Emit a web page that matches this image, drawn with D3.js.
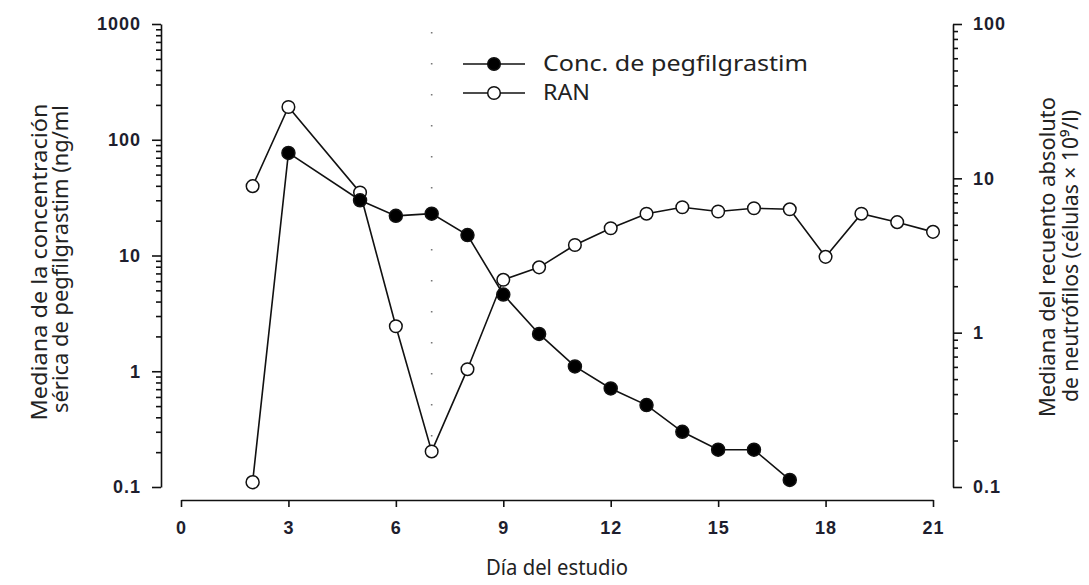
<!DOCTYPE html>
<html>
<head>
<meta charset="utf-8">
<script src="https://cdn.jsdelivr.net/npm/d3@7"></script>
<style>
  body { margin: 0; background: #fff; }
  .axis path, .axis line { stroke: #111; stroke-width: 1.6; }
  .title { font-family: "Noto Sans", "Open Sans", sans-serif; font-size: 21px; fill: #222; }
</style>
</head>
<body>
<script>
// study days and medians
let concDays = [2, 3, 5, 6, 7, 8, 9, 10, 11, 12, 13, 14, 15, 16, 17];
let concValues = [0.11, 77, 30, 22, 23, 15, 4.6, 2.1, 1.1, 0.71, 0.51, 0.3, 0.21, 0.21, 0.115];
let concOpenDays = [2];   // day 2 is drawn with an open marker in the original

let ranDays = [2, 3, 5, 6, 7, 8, 9, 10, 11, 12, 13, 14, 15, 16, 17, 18, 19, 20, 21];
let ranValues = [8.9, 29, 8.1, 1.1, 0.17, 0.58, 2.2, 2.65, 3.7, 4.75, 5.9, 6.5, 6.1, 6.4, 6.3, 3.1, 5.9, 5.2, 4.5];

let xTicks = [0, 3, 6, 9, 12, 15, 18, 21];
let leftTicks = [0.1, 1, 10, 100, 1000];
let rightTicks = [0.1, 1, 10, 100];
let markerDay = 7;

init();

function init() {
  let svg = d3.select("body")
              .append("svg")
              .attr("width", 1089)
              .attr("height", 585);

  let x = d3.scaleLinear().domain([0, 21]).range([181, 933]);
  let yL = d3.scaleLog().domain([0.1, 1000]).range([487, 24]);
  let yR = d3.scaleLog().domain([0.1, 100]).range([487, 24]);

  let minors = (lo, hi) => {
    let tmp = [];
    for (let p = lo; p < hi; p++) {
      for (let k = 2; k <= 9; k++) tmp.push(k * Math.pow(10, p));
    }
    return tmp;
  };

  let fmt = d => d < 1 ? "0.1" : d3.format("d")(d);

  // left axis
  svg.append("g").attr("class", "axis main").attr("transform", "translate(161,0)")
     .call(d3.axisLeft(yL).tickValues(leftTicks).tickSize(9).tickSizeOuter(0).tickPadding(11).tickFormat(fmt));
  svg.append("g").attr("class", "axis").attr("transform", "translate(161,0)")
     .call(d3.axisLeft(yL).tickValues(minors(-1, 3)).tickSize(5).tickFormat(""))
     .select(".domain").remove();

  // right axis
  svg.append("g").attr("class", "axis main").attr("transform", "translate(953,0)")
     .call(d3.axisRight(yR).tickValues(rightTicks).tickSize(9).tickSizeOuter(0).tickPadding(11).tickFormat(fmt));
  svg.append("g").attr("class", "axis").attr("transform", "translate(953,0)")
     .call(d3.axisRight(yR).tickValues(minors(-1, 2)).tickSize(5).tickFormat(""))
     .select(".domain").remove();

  // bottom axis
  svg.append("g").attr("class", "axis main").attr("transform", "translate(0,500)")
     .call(d3.axisBottom(x).tickValues(xTicks).tickSize(7).tickSizeOuter(0).tickPadding(14));

  svg.selectAll(".main .tick text")
     .style("font-family", "'Liberation Sans', Arial, sans-serif")
     .style("font-weight", "bold")
     .style("font-size", "18px")
     .style("letter-spacing", "1px")
     .style("fill", "#1e1e2e");

  // dotted reference line on day 7
  svg.append("line")
     .attr("x1", x(markerDay)).attr("x2", x(markerDay))
     .attr("y1", 32).attr("y2", 466)
     .attr("stroke", "#777").attr("stroke-width", 1.6)
     .attr("stroke-dasharray", "1.6,29.4");

  let conc = concDays.map((d, i) => ({day: d, v: concValues[i], open: concOpenDays.includes(d)}));
  let ran = ranDays.map((d, i) => ({day: d, v: ranValues[i]}));

  let lineL = d3.line().x(d => x(d.day)).y(d => yL(d.v));
  let lineR = d3.line().x(d => x(d.day)).y(d => yR(d.v));

  svg.append("path").datum(ran).attr("d", lineR)
     .attr("fill", "none").attr("stroke", "#111").attr("stroke-width", 1.6);
  svg.append("path").datum(conc).attr("d", lineL)
     .attr("fill", "none").attr("stroke", "#111").attr("stroke-width", 1.6);

  svg.selectAll(".ran-pt").data(ran).enter()
     .append("circle").attr("class", "ran-pt")
     .attr("cx", d => x(d.day)).attr("cy", d => yR(d.v)).attr("r", 6.3)
     .attr("fill", "#fff").attr("stroke", "#111").attr("stroke-width", 1.5);

  svg.selectAll(".conc-pt").data(conc).enter()
     .append("circle").attr("class", "conc-pt")
     .attr("cx", d => x(d.day)).attr("cy", d => yL(d.v)).attr("r", 6.5)
     .attr("fill", d => d.open ? "#fff" : "#000")
     .attr("stroke", "#111").attr("stroke-width", 1.5);

  // legend
  let legend = [
    {label: "Conc. de pegfilgrastim", fill: "#000", y: 64, len: 265},
    {label: "RAN", fill: "#fff", y: 93, len: 47}
  ];
  let lg = svg.append("g");
  legend.forEach(l => {
    lg.append("line").attr("x1", 463).attr("x2", 525).attr("y1", l.y).attr("y2", l.y)
      .attr("stroke", "#111").attr("stroke-width", 1.6);
    lg.append("circle").attr("cx", 494).attr("cy", l.y).attr("r", 6.3)
      .attr("fill", l.fill).attr("stroke", "#111").attr("stroke-width", 1.5);
    lg.append("text").attr("class", "title").attr("x", 543).attr("y", l.y + 7)
      .attr("textLength", l.len).attr("lengthAdjust", "spacingAndGlyphs")
      .text(l.label);
  });

  // axis titles
  svg.append("text").attr("class", "title")
     .attr("x", 557).attr("y", 575).attr("text-anchor", "middle")
     .attr("textLength", 142).attr("lengthAdjust", "spacingAndGlyphs")
     .text("Día del estudio");

  let vTitle = (cx, cy, txt, len) => {
    svg.append("text").attr("class", "title")
       .attr("transform", `translate(${cx},${cy}) rotate(-90)`)
       .attr("text-anchor", "middle")
       .attr("textLength", len).attr("lengthAdjust", "spacingAndGlyphs")
       .text(txt);
  };
  vTitle(47, 262, "Mediana de la concentración", 317);
  vTitle(68, 259, "sérica de pegfilgrastim (ng/ml", 308);
  vTitle(1055, 257, "Mediana del recuento absoluto", 320);
  vTitle(1078, 256, "de neutrófilos (células × 10⁹/l)", 292);
}
</script>
</body>
</html>
